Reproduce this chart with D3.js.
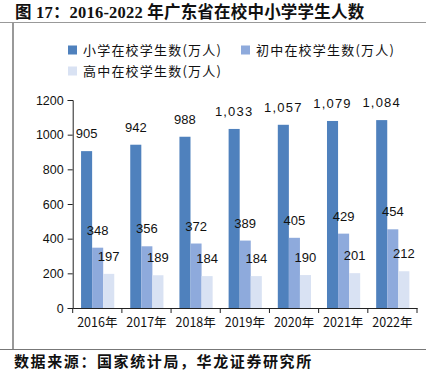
<!DOCTYPE html>
<meta charset="utf-8">
<style>
body { margin: 0; background: #fff; }
text { font-family: "Liberation Sans", Arial, sans-serif; fill: #111; }
.cn { font-family: "Noto Sans CJK SC", sans-serif; }
.axis path, .axis line { stroke: #222; }
</style>
<svg width="426" height="373"></svg>
<script src="https://cdn.jsdelivr.net/npm/d3@7/dist/d3.min.js"></script>
<script>
var years = ["2016年", "2017年", "2018年", "2019年", "2020年", "2021年", "2022年"];
var seriesNames = ["小学在校学生数(万人)", "初中在校学生数(万人)", "高中在校学生数(万人)"];
var primary = [905, 942, 988, 1033, 1057, 1079, 1084];
var junior = [348, 356, 372, 389, 405, 429, 454];
var senior = [197, 189, 184, 184, 190, 201, 212];
var yTicks = [0, 200, 400, 600, 800, 1000, 1200];
var colors = ["#4f81bd", "#8eaadc", "#d9e2f3"];

var svg = d3.select("svg"),
    width = +svg.attr("width"),
    height = +svg.attr("height");

// frame
svg.append("text")
  .attr("x", 15).attr("y", 18)
  .style("font-family", "'Liberation Serif', 'Noto Sans CJK SC', serif")
  .style("font-weight", "bold")
  .style("font-size", "16.5px")
  .style("letter-spacing", "0.2px")
  .text("图 17：2016-2022 年广东省在校中小学学生人数");

svg.append("line").attr("x1", 0).attr("x2", width).attr("y1", 22.5).attr("y2", 22.5)
  .attr("stroke", "#999").attr("stroke-width", 1);
svg.append("line").attr("x1", 13).attr("x2", 13).attr("y1", 22).attr("y2", 349)
  .attr("stroke", "#999").attr("stroke-width", 2);
svg.append("line").attr("x1", 0).attr("x2", width).attr("y1", 349.5).attr("y2", 349.5)
  .attr("stroke", "#777").attr("stroke-width", 1.2);

svg.append("text")
  .attr("x", 14).attr("y", 367)
  .attr("class", "cn")
  .style("font-weight", "bold")
  .style("font-size", "15px")
  .style("letter-spacing", "1.6px")
  .text("数据来源：国家统计局，华龙证券研究所");

// legend
var legendPos = [[68, 50], [241, 50], [68, 71]];
var legend = svg.selectAll(".legend").data(seriesNames)
  .enter().append("g").attr("class", "legend")
  .attr("transform", function(d, i) { return "translate(" + legendPos[i][0] + "," + legendPos[i][1] + ")"; });
legend.append("rect")
  .attr("x", 0).attr("y", -4.5).attr("width", 9).attr("height", 9)
  .attr("fill", function(d, i) { return colors[i]; });
legend.append("text")
  .attr("class", "cn")
  .attr("x", 15).attr("y", 5)
  .style("font-size", "13px")
  .style("letter-spacing", "1.2px")
  .text(function(d) { return d; });

// scales
var x = d3.scaleBand().domain(years).range([72.7, 417]).paddingInner(0).paddingOuter(0);
var y = d3.scaleLinear().domain([0, 1200]).range([308, 100]);
var bw = x.bandwidth();
var sub = d3.scaleBand().domain([0, 1, 2]).range([bw * 0.17, bw * 0.845]).padding(0);

var data = years.map(function(yr, i) {
  return { year: yr, vals: [primary[i], junior[i], senior[i]] };
});

// y axis
var yAxis = svg.append("g").attr("class", "axis")
  .attr("transform", "translate(72.7,0)")
  .call(d3.axisLeft(y).tickValues(yTicks).tickSize(5).tickPadding(4).tickFormat(d3.format("d")));
yAxis.selectAll("text").style("font-size", "12.5px").style("font-family", "'Liberation Sans', Arial, sans-serif");

// bars
var groups = svg.selectAll(".grp").data(data).enter().append("g")
  .attr("transform", function(d) { return "translate(" + x(d.year) + ",0)"; });

groups.selectAll("rect").data(function(d) { return d.vals; })
  .enter().append("rect")
  .attr("x", function(d, i) { return sub(i); })
  .attr("width", sub.bandwidth())
  .attr("y", function(d) { return y(d); })
  .attr("height", function(d) { return y(0) - y(d); })
  .attr("fill", function(d, i) { return colors[i]; });

var fmt = d3.format(",");
groups.selectAll(".lbl").data(function(d) { return d.vals; })
  .enter().append("text")
  .attr("class", "lbl")
  .attr("x", function(d, i) { return sub(i) + sub.bandwidth() / 2; })
  .attr("y", function(d) { return y(d) - 13; })
  .attr("text-anchor", "middle")
  .style("font-size", "13px")
  .style("letter-spacing", function(d) { return d >= 1000 ? "1.2px" : "0px"; })
  .text(function(d) { return fmt(d); });

// x axis
var xAxis = svg.append("g").attr("class", "axis")
  .attr("transform", "translate(0,308)")
  .call(d3.axisBottom(x).tickSize(0).tickPadding(10));
xAxis.selectAll("text")
  .attr("class", "cn")
  .style("font-size", "12.5px")
  .style("fill", "#111");
xAxis.selectAll(".bound").data(years.map(function(d) { return x(d); }).concat([x.range()[1]]))
  .enter().append("line").attr("class", "bound")
  .attr("x1", function(d) { return d; }).attr("x2", function(d) { return d; })
  .attr("y1", 0).attr("y2", 5)
  .attr("stroke", "#222");
</script>
